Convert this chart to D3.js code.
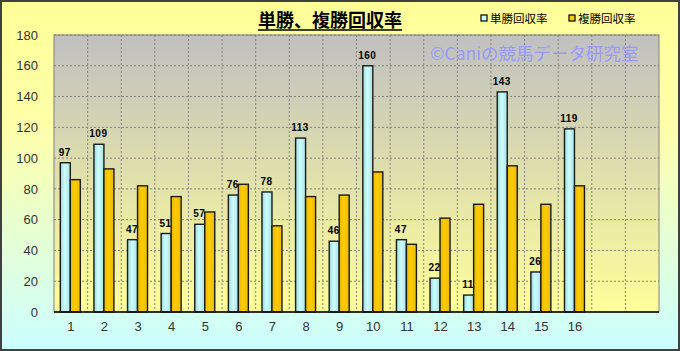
<!DOCTYPE html>
<html>
<head>
<meta charset="utf-8">
<script src="https://cdn.jsdelivr.net/npm/d3@7"></script>
<style>
body { margin: 0; }
svg { display: block; font-family: "Noto Sans CJK JP", "DejaVu Sans", sans-serif; }
</style>
</head>
<body>
<script>
// data
var categories = ["1","2","3","4","5","6","7","8","9","10","11","12","13","14","15","16"];
var emptySlots = ["e1", "e2"];
var winRate = [97, 109, 47, 51, 57, 76, 78, 113, 46, 160, 47, 22, 11, 143, 26, 119];
var placeRate = [86, 93, 82, 75, 65, 83, 56, 75, 76, 91, 44, 61, 70, 95, 70, 82];
var yTicks = [0, 20, 40, 60, 80, 100, 120, 140, 160, 180];
var seriesNames = ["単勝回収率", "複勝回収率"];

var W = 680, H = 351;
var margin = {top: 35, right: 21, bottom: 39, left: 54};
var width = W - margin.left - margin.right,
	height = H - margin.top - margin.bottom;

var svg = d3.select("body").append("svg")
	.attr("width", W)
	.attr("height", H);

var defs = svg.append("defs");

var bgGrad = defs.append("linearGradient").attr("id", "bg")
	.attr("x1", 0).attr("y1", 0).attr("x2", 0).attr("y2", 1);
bgGrad.append("stop").attr("offset", "0%").attr("stop-color", "#FFFF99");
bgGrad.append("stop").attr("offset", "35%").attr("stop-color", "#FFFFA8");
bgGrad.append("stop").attr("offset", "100%").attr("stop-color", "#CCFFFF");

var plotGrad = defs.append("linearGradient").attr("id", "plotbg")
	.attr("x1", 0).attr("y1", 0).attr("x2", 0).attr("y2", 1);
plotGrad.append("stop").attr("offset", "0%").attr("stop-color", "#C0C0C0");
plotGrad.append("stop").attr("offset", "100%").attr("stop-color", "#FFFF99");

var cyanGrad = defs.append("linearGradient").attr("id", "cyanbar")
	.attr("x1", 0).attr("y1", 0).attr("x2", 1).attr("y2", 0);
cyanGrad.append("stop").attr("offset", "0%").attr("stop-color", "#99D6D6");
cyanGrad.append("stop").attr("offset", "45%").attr("stop-color", "#CCFFFF");
cyanGrad.append("stop").attr("offset", "100%").attr("stop-color", "#A8E0E0");

var goldGrad = defs.append("linearGradient").attr("id", "goldbar")
	.attr("x1", 0).attr("y1", 0).attr("x2", 1).attr("y2", 0);
goldGrad.append("stop").attr("offset", "0%").attr("stop-color", "#E6B800");
goldGrad.append("stop").attr("offset", "45%").attr("stop-color", "#FFCC00");
goldGrad.append("stop").attr("offset", "100%").attr("stop-color", "#EBBB00");

// background + frame
svg.append("rect")
	.attr("x", 1).attr("y", 1)
	.attr("width", W - 2).attr("height", H - 2)
	.attr("fill", "url(#bg)")
	.attr("stroke", "#404040")
	.attr("stroke-width", 2);

var g = svg.append("g")
	.attr("transform", "translate(" + margin.left + "," + margin.top + ")");

// scales
var x = d3.scaleBand()
	.domain(categories.concat(emptySlots))
	.range([0, width]);

var y = d3.scaleLinear()
	.domain([0, 180])
	.range([height, 0]);

// plot area
g.append("rect")
	.attr("width", width)
	.attr("height", height)
	.attr("fill", "url(#plotbg)");

// grid
g.selectAll(".hgrid")
	.data(yTicks.slice(1))
	.enter()
	.append("line")
	.attr("x1", 0).attr("x2", width)
	.attr("y1", function(d) { return y(d); })
	.attr("y2", function(d) { return y(d); })
	.attr("stroke", "#808080")
	.attr("stroke-dasharray", "2,2");

g.selectAll(".vgrid")
	.data(x.domain().slice(1))
	.enter()
	.append("line")
	.attr("x1", function(d) { return x(d); })
	.attr("x2", function(d) { return x(d); })
	.attr("y1", 0).attr("y2", height)
	.attr("stroke", "#808080")
	.attr("stroke-dasharray", "2,2");

// bars
var barW = 10;

g.selectAll(".win")
	.data(winRate)
	.enter()
	.append("rect")
	.attr("x", function(d, i) { return x(categories[i]) + x.bandwidth() / 2 - barW - 0.5; })
	.attr("y", function(d) { return y(d); })
	.attr("width", barW)
	.attr("height", function(d) { return height - y(d); })
	.attr("fill", "url(#cyanbar)")
	.attr("stroke", "#1a1a1a")
	.attr("stroke-width", 1.4);

g.selectAll(".place")
	.data(placeRate)
	.enter()
	.append("rect")
	.attr("x", function(d, i) { return x(categories[i]) + x.bandwidth() / 2 - 0.5; })
	.attr("y", function(d) { return y(d); })
	.attr("width", barW)
	.attr("height", function(d) { return height - y(d); })
	.attr("fill", "url(#goldbar)")
	.attr("stroke", "#1a1a1a")
	.attr("stroke-width", 1.4);

// labels on single win bars
g.selectAll(".lbl")
	.data(winRate)
	.enter()
	.append("text")
	.attr("x", function(d, i) { return x(categories[i]) + x.bandwidth() / 2 - barW / 2 - 1; })
	.attr("y", function(d) { return y(d) - 7; })
	.attr("text-anchor", "middle")
	.attr("font-family", "Liberation Sans, Arial, sans-serif")
	.attr("font-size", 10)
	.attr("font-weight", "bold")
	.attr("letter-spacing", "0.5px")
	.attr("fill", "#000")
	.text(function(d) { return d; });

// plot border
g.append("rect")
	.attr("width", width)
	.attr("height", height)
	.attr("fill", "none")
	.attr("stroke", "#808080")
	.attr("stroke-width", 1);

g.append("line")
	.attr("x1", 0).attr("x2", width)
	.attr("y1", height).attr("y2", height)
	.attr("stroke", "#000")
	.attr("stroke-width", 1.5);

// axes
var yAxis = d3.axisLeft(y)
	.tickValues(yTicks)
	.tickSize(0)
	.tickPadding(16);

var xAxis = d3.axisBottom(x)
	.tickSize(0)
	.tickPadding(10)
	.tickFormat(function(d) { return emptySlots.indexOf(d) >= 0 ? "" : d; });

var ya = g.append("g").call(yAxis);
var xa = g.append("g").attr("transform", "translate(0," + height + ")").call(xAxis);

[ya, xa].forEach(function(a) {
	a.select(".domain").remove();
	a.selectAll("text")
		.attr("font-family", "Liberation Sans, Arial, sans-serif")
		.attr("font-size", 13)
		.attr("fill", "#333");
});

// title
var title = svg.append("text")
	.attr("x", 330)
	.attr("y", 27)
	.attr("text-anchor", "middle")
	.attr("font-size", 18)
	.attr("font-weight", "bold")
	.attr("fill", "#000")
	.text("単勝、複勝回収率");

var tb = title.node().getBBox();
svg.append("line")
	.attr("x1", tb.x).attr("x2", tb.x + tb.width)
	.attr("y1", 30).attr("y2", 30)
	.attr("stroke", "#000")
	.attr("stroke-width", 1.3);

// legend
var legendX = [481, 569];
var legendFill = ["#CCFFFF", "#FFCC00"];
seriesNames.forEach(function(name, i) {
	svg.append("rect")
		.attr("x", legendX[i]).attr("y", 15)
		.attr("width", 6).attr("height", 6)
		.attr("fill", legendFill[i])
		.attr("stroke", "#000")
		.attr("stroke-width", 1.2);
	svg.append("text")
		.attr("x", legendX[i] + 9)
		.attr("y", 23)
		.attr("font-size", 11.5)
		.attr("fill", "#000")
		.text(name);
});

// watermark
svg.append("text")
	.attr("x", 430)
	.attr("y", 60)
	.attr("font-size", 17.5)
	.attr("fill", "#9999FF")
	.text("©Caniの競馬データ研究室");
</script>
</body>
</html>
